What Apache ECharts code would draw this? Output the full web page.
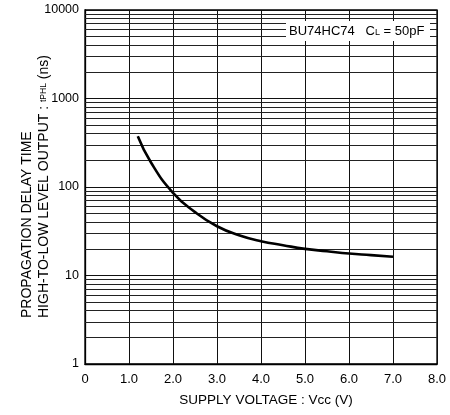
<!DOCTYPE html>
<html>
<head>
<meta charset="utf-8">
<script src="https://cdn.jsdelivr.net/npm/echarts@6/dist/echarts.min.js"></script>
<style>
html,body{margin:0;padding:0;background:#fff;}
#chart{width:450px;height:415px;}
</style>
</head>
<body>
<div id="chart"></div>
<script>
// Data
const vcc = [1.2, 1.5, 2.0, 2.5, 3.0, 3.5, 4.0, 4.5, 5.0, 5.5, 6.0, 6.5, 7.0];
const tphl = [375, 189, 86, 52, 36, 28.5, 24.4, 22, 20, 18.8, 17.7, 17.0, 16.3];
const xTicks = [0, 1, 2, 3, 4, 5, 6, 7, 8];
const yTicks = [1, 10, 100, 1000, 10000];
const minorMultipliers = [2, 3, 4, 5, 6, 7, 8, 9];

const FONT = '"Liberation Sans", Arial, sans-serif';
const minorVals = [];
for (let k = 0; k < yTicks.length - 1; k++) {
  minorMultipliers.forEach(m => minorVals.push(m * yTicks[k]));
}

const chart = echarts.init(document.getElementById('chart'), null, {renderer: 'canvas'});
const option = {
  animation: false,
  backgroundColor: '#fff',
  grid: {left: 85, right: 13, top: 10, bottom: 51, show: true, borderColor: '#000', borderWidth: 1.3, backgroundColor: 'transparent'},
  xAxis: {
    type: 'value', min: xTicks[0], max: xTicks[xTicks.length - 1], interval: 1,
    axisLine: {show: true, lineStyle: {color: '#000', width: 1.3}},
    axisTick: {show: false},
    splitLine: {show: true, lineStyle: {color: '#111', width: 1}},
    axisLabel: {color: '#000', fontFamily: FONT, fontSize: 13, margin: 9,
      formatter: v => (v === 0 ? '0' : v.toFixed(1))}
  },
  yAxis: {
    type: 'log', logBase: 10, min: yTicks[0], max: yTicks[yTicks.length - 1],
    axisLine: {show: true, lineStyle: {color: '#000', width: 1.3}},
    axisTick: {show: false},
    splitLine: {show: true, lineStyle: {color: '#111', width: 1.2}},
    axisLabel: {color: '#000', fontFamily: FONT, fontSize: 12.5, margin: 6,
      formatter: v => String(Math.round(v))}
  },
  series: [
    {
      type: 'line', data: [], z: 1, silent: true,
      markLine: {
        symbol: 'none', silent: true, animation: false,
        label: {show: false},
        lineStyle: {color: '#222', width: 1, type: 'solid'},
        data: minorVals.map(v => ({yAxis: v}))
      }
    },
    {
      type: 'line', z: 5, smooth: 0.5, showSymbol: false, symbol: 'none',
      lineStyle: {color: '#000', width: 2.6},
      data: vcc.map((x, i) => [x, tphl[i]])
    }
  ],
  graphic: [
    {type: 'rect', left: 286, top: 21, shape: {width: 144, height: 20}, style: {fill: '#fff'}, z: 100},
    {type: 'text', x: 289, y: 31, z: 101,
      style: {text: '{a|BU74HC74   C}{s|L}{a| = 50pF}', verticalAlign: 'middle', align: 'left',
        rich: {a: {fontSize: 13, fontFamily: FONT, fill: '#000'}, s: {fontSize: 9, fontFamily: FONT, fill: '#000', padding: [4, 0, 0, 0]}}}},
    {type: 'text', x: 27, y: 318, rotation: Math.PI / 2, z: 101,
      style: {text: 'PROPAGATION DELAY TIME', font: '14px ' + FONT, fill: '#000', align: 'left', verticalAlign: 'middle'}},
    {type: 'text', x: 44, y: 318, rotation: Math.PI / 2, z: 101,
      style: {text: '{n|HIGH-TO-LOW LEVEL OUTPUT : }{s|tPHL}{n| (ns)}', align: 'left', verticalAlign: 'middle',
        rich: {n: {fontSize: 14, fontFamily: FONT, fill: '#000'}, s: {fontSize: 8.5, fontFamily: FONT, fill: '#000'}}}},
    {type: 'text', x: 266, y: 400, z: 101,
      style: {text: 'SUPPLY VOLTAGE : Vcc (V)', font: '13.5px ' + FONT, fill: '#000', align: 'center', verticalAlign: 'middle'}}
  ]
};
chart.setOption(option);
</script>
</body>
</html>
